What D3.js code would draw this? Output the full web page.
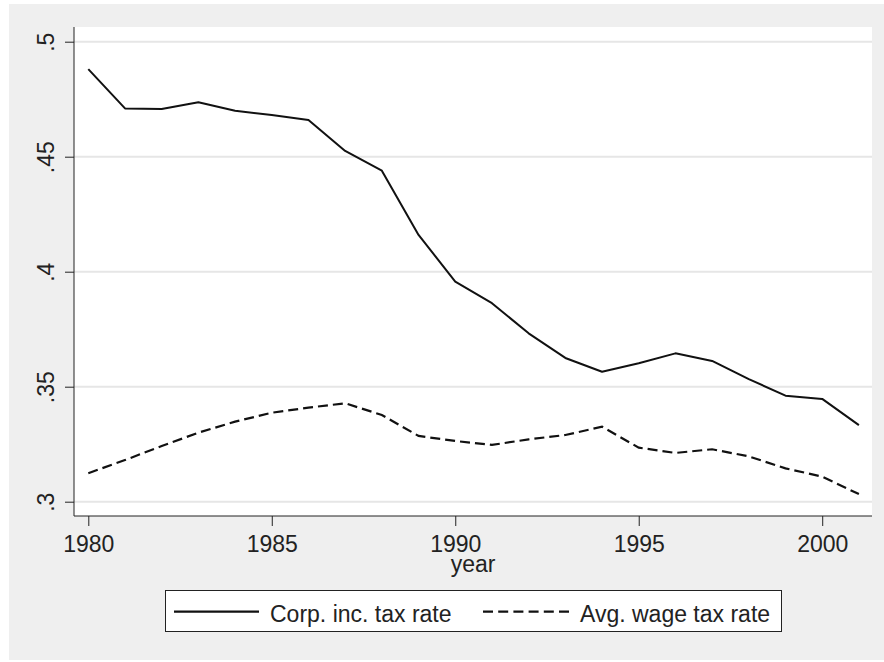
<!DOCTYPE html>
<html>
<head>
<meta charset="utf-8">
<script src="https://cdn.jsdelivr.net/npm/d3@7"></script>
<style>
  body { margin: 0; background: #fff; }
  svg { display: block; font-family: "Liberation Sans", Arial, sans-serif; }
  .axis path, .axis line { stroke: #222; }
  .axis text { fill: #222; font-size: 23px; }
</style>
</head>
<body>
<div id="chart"></div>
<script>
const width = 884;
const height = 662;

const years = d3.range(1980, 2002);
const corpRate = [0.4881, 0.4710, 0.4707, 0.4737, 0.4700, 0.4681, 0.4660, 0.4525, 0.4439, 0.4160, 0.3957,
                  0.3863, 0.3732, 0.3625, 0.3565, 0.3602, 0.3645, 0.3612, 0.3533, 0.3461, 0.3447, 0.3333];
const wageRate = [0.3124, 0.3181, 0.3242, 0.3300, 0.3348, 0.3387, 0.3409, 0.3428, 0.3377, 0.3286, 0.3264,
                  0.3247, 0.3271, 0.3290, 0.3326, 0.3235, 0.3212, 0.3228, 0.3197, 0.3145, 0.3109, 0.3033];
const xTicks = [1980, 1985, 1990, 1995, 2000];
const yTicks = [0.3, 0.35, 0.4, 0.45, 0.5];
const yTickLabels = [".3", ".35", ".4", ".45", ".5"];
const seriesNames = ["Corp. inc. tax rate", "Avg. wage tax rate"];

const plot = { left: 74, right: 872, top: 27, bottom: 516 };

const svg = d3.select("#chart").append("svg")
    .attr("width", width)
    .attr("height", height);

// outer grey background and white plot region
svg.append("rect").attr("x", 9).attr("y", 4).attr("width", width - 9).attr("height", 656).attr("fill", "#efefef");
svg.append("rect")
    .attr("x", plot.left).attr("y", plot.top)
    .attr("width", plot.right - plot.left).attr("height", plot.bottom - plot.top)
    .attr("fill", "#fff");

const xScale = d3.scaleLinear().domain([1980, 2001]).range([88.3, 858.9]);
const yScale = d3.scaleLinear().domain([0.3, 0.5]).range([501.7, 41.7]);

// gridlines
svg.append("g").attr("class", "gridlines")
    .selectAll("line")
    .data(yTicks)
    .join("line")
    .attr("x1", plot.left).attr("x2", plot.right)
    .attr("y1", d => yScale(d)).attr("y2", d => yScale(d))
    .attr("stroke", "#e6e6e6")
    .attr("stroke-width", 2);

// y axis
const yAxis = svg.append("g")
    .attr("class", "axis y-axis")
    .attr("transform", `translate(${plot.left},0)`)
    .call(d3.axisLeft(yScale).tickValues(yTicks).tickSize(9)
        .tickFormat((d, i) => yTickLabels[i]));
yAxis.select(".domain").attr("d", `M0,${plot.top}V${plot.bottom}`);
yAxis.selectAll(".tick text")
    .attr("x", 0).attr("y", 0).attr("dy", 0)
    .attr("text-anchor", "middle")
    .attr("transform", "translate(-20.5,0) rotate(-90)");

// x axis
const xAxis = svg.append("g")
    .attr("class", "axis x-axis")
    .attr("transform", `translate(0,${plot.bottom})`)
    .call(d3.axisBottom(xScale).tickValues(xTicks).tickSize(10).tickFormat(d3.format("d")));
xAxis.select(".domain").attr("d", `M${plot.left},0H${plot.right}`);
xAxis.selectAll(".tick text").attr("y", 35.7).attr("dy", 0);

svg.append("text")
    .attr("x", (plot.left + plot.right) / 2)
    .attr("y", 572)
    .attr("text-anchor", "middle")
    .attr("font-size", 23)
    .attr("fill", "#222")
    .text("year");

// lines
const line = d3.line()
    .x((d, i) => xScale(years[i]))
    .y(d => yScale(d));

svg.append("path")
    .datum(corpRate)
    .attr("d", line)
    .attr("fill", "none")
    .attr("stroke", "#111")
    .attr("stroke-width", 2)
    .attr("stroke-linejoin", "round");

svg.append("path")
    .datum(wageRate)
    .attr("d", line)
    .attr("fill", "none")
    .attr("stroke", "#111")
    .attr("stroke-width", 2.2)
    .attr("stroke-dasharray", "10,5");

// legend
const legend = svg.append("g").attr("class", "legend");
legend.append("rect")
    .attr("x", 165.5).attr("y", 590.5)
    .attr("width", 616).attr("height", 41)
    .attr("fill", "#fff")
    .attr("stroke", "#222")
    .attr("stroke-width", 1);

const legendItems = [
    { name: seriesNames[0], x1: 174, x2: 259, tx: 270, dash: null },
    { name: seriesNames[1], x1: 483, x2: 569, tx: 580, dash: "10,5.2" }
];
legendItems.forEach(item => {
    legend.append("line")
        .attr("x1", item.x1).attr("x2", item.x2)
        .attr("y1", 611.7).attr("y2", 611.7)
        .attr("stroke", "#111")
        .attr("stroke-width", 2.2)
        .attr("stroke-dasharray", item.dash);
    legend.append("text")
        .attr("x", item.tx).attr("y", 621.5)
        .attr("font-size", 23)
        .attr("fill", "#222")
        .text(item.name);
});
</script>
</body>
</html>
